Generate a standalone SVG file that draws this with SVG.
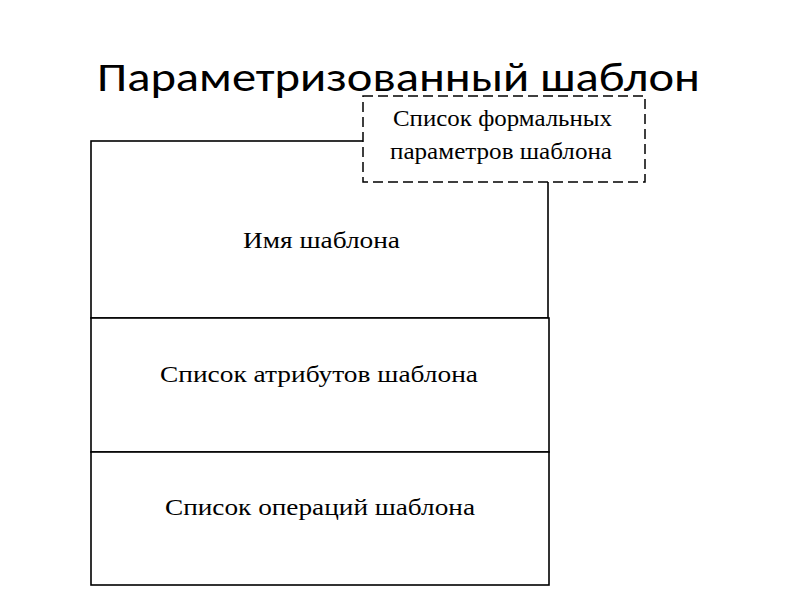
<svg xmlns="http://www.w3.org/2000/svg" width="800" height="600" viewBox="0 0 800 600">
<style>
.box{fill:#fff;stroke:#000;stroke-width:1.6}
.dash{fill:#fff;stroke:#000;stroke-width:1.5;stroke-dasharray:10 5}
.t{font-family:"Liberation Serif","Times New Roman",serif;font-size:23px;fill:#000}
.title{font-family:"Carlito","Liberation Sans",Arial,sans-serif;font-size:42px;fill:#000}
</style>
<rect width="800" height="600" fill="#fff"/>
<text class="title" x="97" y="91" textLength="603" lengthAdjust="spacingAndGlyphs">Параметризованный шаблон</text>
<g id="name">
<rect class="box" x="91" y="141" width="457" height="177"/>
<text class="t" x="243" y="248" textLength="157" lengthAdjust="spacingAndGlyphs">Имя шаблона</text>
</g>
<g id="attributes">
<rect class="box" x="91" y="318" width="458" height="134"/>
<text class="t" x="160" y="382" textLength="318" lengthAdjust="spacingAndGlyphs">Список атрибутов шаблона</text>
</g>
<g id="operations">
<rect class="box" x="91" y="452" width="458" height="133"/>
<text class="t" x="165" y="515" textLength="310" lengthAdjust="spacingAndGlyphs">Список операций шаблона</text>
</g>
<g id="parameters">
<rect class="dash" x="363" y="96" width="282" height="86"/>
<text class="t" x="393" y="126" textLength="219" lengthAdjust="spacingAndGlyphs">Список формальных</text>
<text class="t" x="390" y="159" textLength="222" lengthAdjust="spacingAndGlyphs">параметров шаблона</text>
</g>
<g id="connectors"></g>
</svg>
